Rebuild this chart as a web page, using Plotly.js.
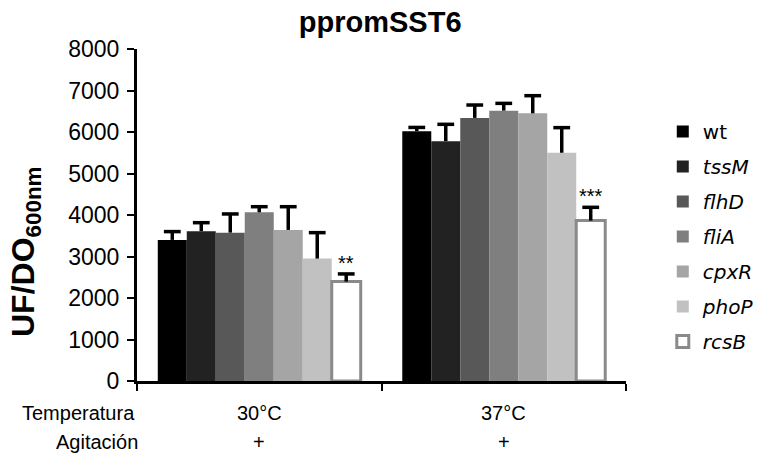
<!DOCTYPE html>
<html>
<head>
<meta charset="utf-8">
<script src="https://cdn.plot.ly/plotly-3.0.1.min.js"></script>
<style>html,body{margin:0;padding:0;background:#fff;}#chart{width:768px;height:457px;}</style>
</head>
<body>
<div id="chart"></div>
<script>
const categories = ['30°C', '37°C'];
const agitation = ['+', '+'];
const strains = ['wt', 'tssM', 'flhD', 'fliA', 'cpxR', 'phoP', 'rcsB'];
const strainLabels = ['wt', '<i>tssM</i>', '<i>flhD</i>', '<i>fliA</i>', '<i>cpxR</i>', '<i>phoP</i>', '<i>rcsB</i>'];
const values = {
  wt:   [3400, 6020],
  tssM: [3610, 5780],
  flhD: [3575, 6340],
  fliA: [4065, 6515],
  cpxR: [3640, 6450],
  phoP: [2950, 5500],
  rcsB: [2395, 3865]
};
const errors = {
  wt:   [200, 90],
  tssM: [205, 405],
  flhD: [450, 310],
  fliA: [135, 175],
  cpxR: [560, 425],
  phoP: [625, 605],
  rcsB: [185, 320]
};
const significance = ['**', '***'];
const colors = ['#000000', '#222222', '#585858', '#7f7f7f', '#a5a5a5', '#c1c1c1', '#ffffff'];

const bargap = 0.17;
const barW = (1 - bargap) / strains.length;
const catIdx = categories.map((c, k) => k);

const traces = strains.map((s, i) => ({
  type: 'bar',
  name: strainLabels[i],
  x: catIdx,
  y: values[s],
  legendgroup: s,
  hoverinfo: 'skip',
  marker: {
    color: colors[i],
    line: {color: s === 'rcsB' ? '#8a8a8a' : colors[i], width: s === 'rcsB' ? 3 : 0}
  }
}));

// one-sided (upward) error bars: stems + caps
const stemX = [], stemY = [], capX = [], capY = [];
strains.forEach((s, i) => {
  const off = (i - (strains.length - 1) / 2) * barW;
  catIdx.forEach(k => {
    const top = values[s][k] + errors[s][k];
    stemX.push(k + off, k + off, null);
    stemY.push(values[s][k], top, null);
    capX.push(k + off);
    capY.push(top);
  });
});
traces.push({type: 'scatter', mode: 'lines', x: stemX, y: stemY, showlegend: false, hoverinfo: 'skip',
  line: {color: '#000', width: 3.5}});
traces.push({type: 'scatter', mode: 'markers', x: capX, y: capY, showlegend: false, hoverinfo: 'skip',
  marker: {symbol: 'line-ew', size: 12, line: {color: '#000', width: 3.5}}});

const font = 'Liberation Sans, Arial';
const annotations = [];
annotations.push({xref: 'paper', yref: 'paper', x: 0.0, y: -0.096, xanchor: 'right', yanchor: 'middle',
  text: 'Temperatura', showarrow: false, font: {family: font, size: 20, color: '#000'}});
annotations.push({xref: 'paper', yref: 'paper', x: 0.007, y: -0.184, xanchor: 'right', yanchor: 'middle',
  text: 'Agitación', showarrow: false, font: {family: font, size: 20, color: '#000'}});
annotations.push({xref: 'paper', yref: 'paper', x: -0.228, y: 0.39, xanchor: 'center', yanchor: 'middle',
  textangle: -90, text: '<b>UF/DO<sub>600nm</sub></b>', showarrow: false, font: {family: font, size: 32, color: '#000'}});
const lastOffset = (strains.length - 1) / 2 * barW;
catIdx.forEach(k => {
  annotations.push({xref: 'x', yref: 'paper', x: k, y: -0.096, xanchor: 'center', yanchor: 'middle',
    text: categories[k], showarrow: false, font: {family: font, size: 20, color: '#000'}});
  annotations.push({xref: 'x', yref: 'paper', x: k, y: -0.184, xanchor: 'center', yanchor: 'middle',
    text: agitation[k], showarrow: false, font: {family: font, size: 20, color: '#000'}});
  const last = strains[strains.length - 1];
  annotations.push({xref: 'x', yref: 'y', x: k + lastOffset, y: values[last][k] + errors[last][k],
    xanchor: 'center', yanchor: 'bottom', text: significance[k], showarrow: false, yshift: -2,
    font: {family: font, size: 20, color: '#000'}});
});

const layout = {
  width: 768, height: 457,
  margin: {l: 137, r: 142, t: 49, b: 76},
  paper_bgcolor: '#fff', plot_bgcolor: '#fff',
  barmode: 'group', bargap: bargap, bargroupgap: 0,
  title: {text: '<b>ppromSST6</b>', x: 0.495, xanchor: 'center', y: 0.952, yanchor: 'middle',
          font: {family: font, size: 29, color: '#000'}},
  xaxis: {type: 'linear', range: [-0.5, 1.5], tickvals: [-0.5, 0.5, 1.5], showticklabels: false,
          showline: true, linecolor: '#000', linewidth: 3,
          ticks: 'outside', ticklen: 7, tickwidth: 2, tickcolor: '#000', showgrid: false, zeroline: false, fixedrange: true},
  yaxis: {range: [0, 8000], tickvals: [0,1000,2000,3000,4000,5000,6000,7000,8000], showline: true, linecolor: '#000', linewidth: 3,
          ticks: 'outside', ticklen: 7, tickwidth: 2, tickcolor: '#000', showgrid: false, zeroline: false,
          ticklabelstandoff: 3,
          tickfont: {family: font, size: 23, color: '#000'}},
  legend: {xref: 'container', yref: 'container', x: 0.863, y: 0.755, xanchor: 'left', yanchor: 'top',
           tracegroupgap: 6, traceorder: 'grouped', maxheight: 420,
           font: {family: 'DejaVu Sans', size: 20, color: '#000'}, bgcolor: 'rgba(0,0,0,0)'},
  showlegend: true,
  annotations: annotations
};
Plotly.newPlot('chart', traces, layout, {displayModeBar: false, staticPlot: true});
</script>
</body>
</html>
